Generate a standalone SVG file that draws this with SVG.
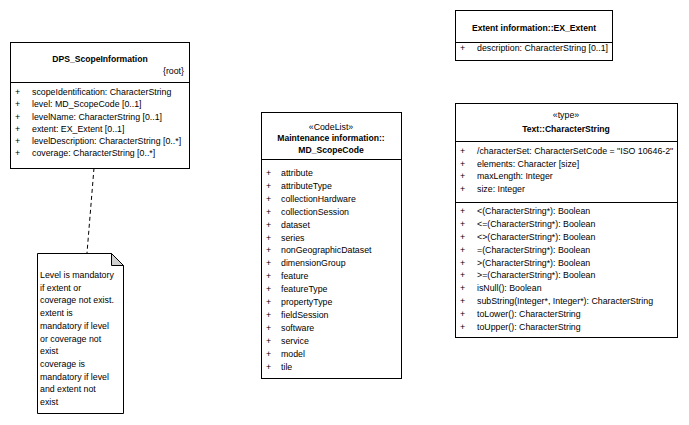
<svg xmlns="http://www.w3.org/2000/svg" width="689" height="425" viewBox="0 0 689 425">
<style>
.box{fill:#fff;stroke:#000;stroke-width:1}
.ln{stroke:#000;stroke-width:1;fill:none}
text{font-family:"Liberation Sans",Arial,sans-serif;font-size:8.8px;fill:#000}
.b{font-weight:bold;font-size:8.6px}
.c{text-anchor:middle}
.r{text-anchor:end}
.dash{stroke:#000;stroke-width:1;fill:none;stroke-dasharray:4,3}
</style>
<rect width="689" height="425" fill="#fff"/>
<g id="connectors">
<line class="dash" x1="94" y1="168" x2="87" y2="253"/>
</g>
<g id="DPS_ScopeInformation">
<rect class="box" x="10.5" y="42.5" width="179" height="126"/>
<line class="ln" x1="10.5" y1="82.5" x2="189.5" y2="82.5"/>
<text class="b c" x="100" y="62">DPS_ScopeInformation</text>
<text class="r" x="184" y="74">{root}</text>
<text x="15" y="95">+</text><text x="32" y="95">scopeIdentification: CharacterString</text>
<text x="15" y="107">+</text><text x="32" y="107">level: MD_ScopeCode [0..1]</text>
<text x="15" y="120">+</text><text x="32" y="120">levelName: CharacterString [0..1]</text>
<text x="15" y="132">+</text><text x="32" y="132">extent: EX_Extent [0..1]</text>
<text x="15" y="144">+</text><text x="32" y="144">levelDescription: CharacterString [0..*]</text>
<text x="15" y="156">+</text><text x="32" y="156">coverage: CharacterString [0..*]</text>
</g>
<g id="note">
<path class="box" d="M37.5,253.5 H111.5 L123.5,265.5 V413.5 H37.5 Z"/>
<path d="M111.5,253.5 V265.5 H123.5 Z" fill="#d0d0d0" stroke="#000" stroke-width="1"/>
<text x="40" y="278">Level is mandatory</text>
<text x="40" y="291">if extent or</text>
<text x="40" y="303">coverage not exist.</text>
<text x="40" y="316">extent is</text>
<text x="40" y="329">mandatory if level</text>
<text x="40" y="342">or coverage not</text>
<text x="40" y="354">exist</text>
<text x="40" y="367">coverage is</text>
<text x="40" y="380">mandatory if level</text>
<text x="40" y="392">and extent not</text>
<text x="40" y="405">exist</text>
</g>
<g id="MD_ScopeCode">
<rect class="box" x="261.5" y="112.5" width="140" height="266"/>
<line class="ln" x1="261.5" y1="159.5" x2="401.5" y2="159.5"/>
<text class="c" x="331" y="130">«CodeList»</text>
<text class="b c" x="331" y="141">Maintenance information::</text>
<text class="b c" x="331" y="153">MD_ScopeCode</text>
<text x="266" y="176">+</text><text x="281" y="176">attribute</text>
<text x="266" y="189">+</text><text x="281" y="189">attributeType</text>
<text x="266" y="202">+</text><text x="281" y="202">collectionHardware</text>
<text x="266" y="215">+</text><text x="281" y="215">collectionSession</text>
<text x="266" y="228">+</text><text x="281" y="228">dataset</text>
<text x="266" y="241">+</text><text x="281" y="241">series</text>
<text x="266" y="253">+</text><text x="281" y="253">nonGeographicDataset</text>
<text x="266" y="266">+</text><text x="281" y="266">dimensionGroup</text>
<text x="266" y="279">+</text><text x="281" y="279">feature</text>
<text x="266" y="292">+</text><text x="281" y="292">featureType</text>
<text x="266" y="305">+</text><text x="281" y="305">propertyType</text>
<text x="266" y="318">+</text><text x="281" y="318">fieldSession</text>
<text x="266" y="331">+</text><text x="281" y="331">software</text>
<text x="266" y="344">+</text><text x="281" y="344">service</text>
<text x="266" y="357">+</text><text x="281" y="357">model</text>
<text x="266" y="370">+</text><text x="281" y="370">tile</text>
</g>
<g id="EX_Extent">
<rect class="box" x="455.5" y="10.5" width="157" height="50"/>
<line class="ln" x1="455.5" y1="42.5" x2="612.5" y2="42.5"/>
<text class="b c" x="534" y="31">Extent information::EX_Extent</text>
<text x="460" y="51">+</text><text x="477" y="51">description: CharacterString [0..1]</text>
</g>
<g id="CharacterString">
<rect class="box" x="455.5" y="103.5" width="222" height="234"/>
<line class="ln" x1="455.5" y1="141.5" x2="677.5" y2="141.5"/>
<line class="ln" x1="455.5" y1="202.5" x2="677.5" y2="202.5"/>
<text class="c" x="566" y="118">«type»</text>
<text class="b c" x="566" y="132">Text::CharacterString</text>
<text x="460" y="154">+</text><text x="477" y="154">/characterSet: CharacterSetCode = "ISO 10646-2"</text>
<text x="460" y="167">+</text><text x="477" y="167">elements: Character [size]</text>
<text x="460" y="179">+</text><text x="477" y="179">maxLength: Integer</text>
<text x="460" y="192">+</text><text x="477" y="192">size: Integer</text>
<text x="460" y="214">+</text><text x="477" y="214">&lt;(CharacterString*): Boolean</text>
<text x="460" y="227">+</text><text x="477" y="227">&lt;=(CharacterString*): Boolean</text>
<text x="460" y="240">+</text><text x="477" y="240">&lt;&gt;(CharacterString*): Boolean</text>
<text x="460" y="253">+</text><text x="477" y="253">=(CharacterString*): Boolean</text>
<text x="460" y="266">+</text><text x="477" y="266">&gt;(CharacterString*): Boolean</text>
<text x="460" y="278">+</text><text x="477" y="278">&gt;=(CharacterString*): Boolean</text>
<text x="460" y="291">+</text><text x="477" y="291">isNull(): Boolean</text>
<text x="460" y="304">+</text><text x="477" y="304">subString(Integer*, Integer*): CharacterString</text>
<text x="460" y="317">+</text><text x="477" y="317">toLower(): CharacterString</text>
<text x="460" y="330">+</text><text x="477" y="330">toUpper(): CharacterString</text>
</g>
</svg>
